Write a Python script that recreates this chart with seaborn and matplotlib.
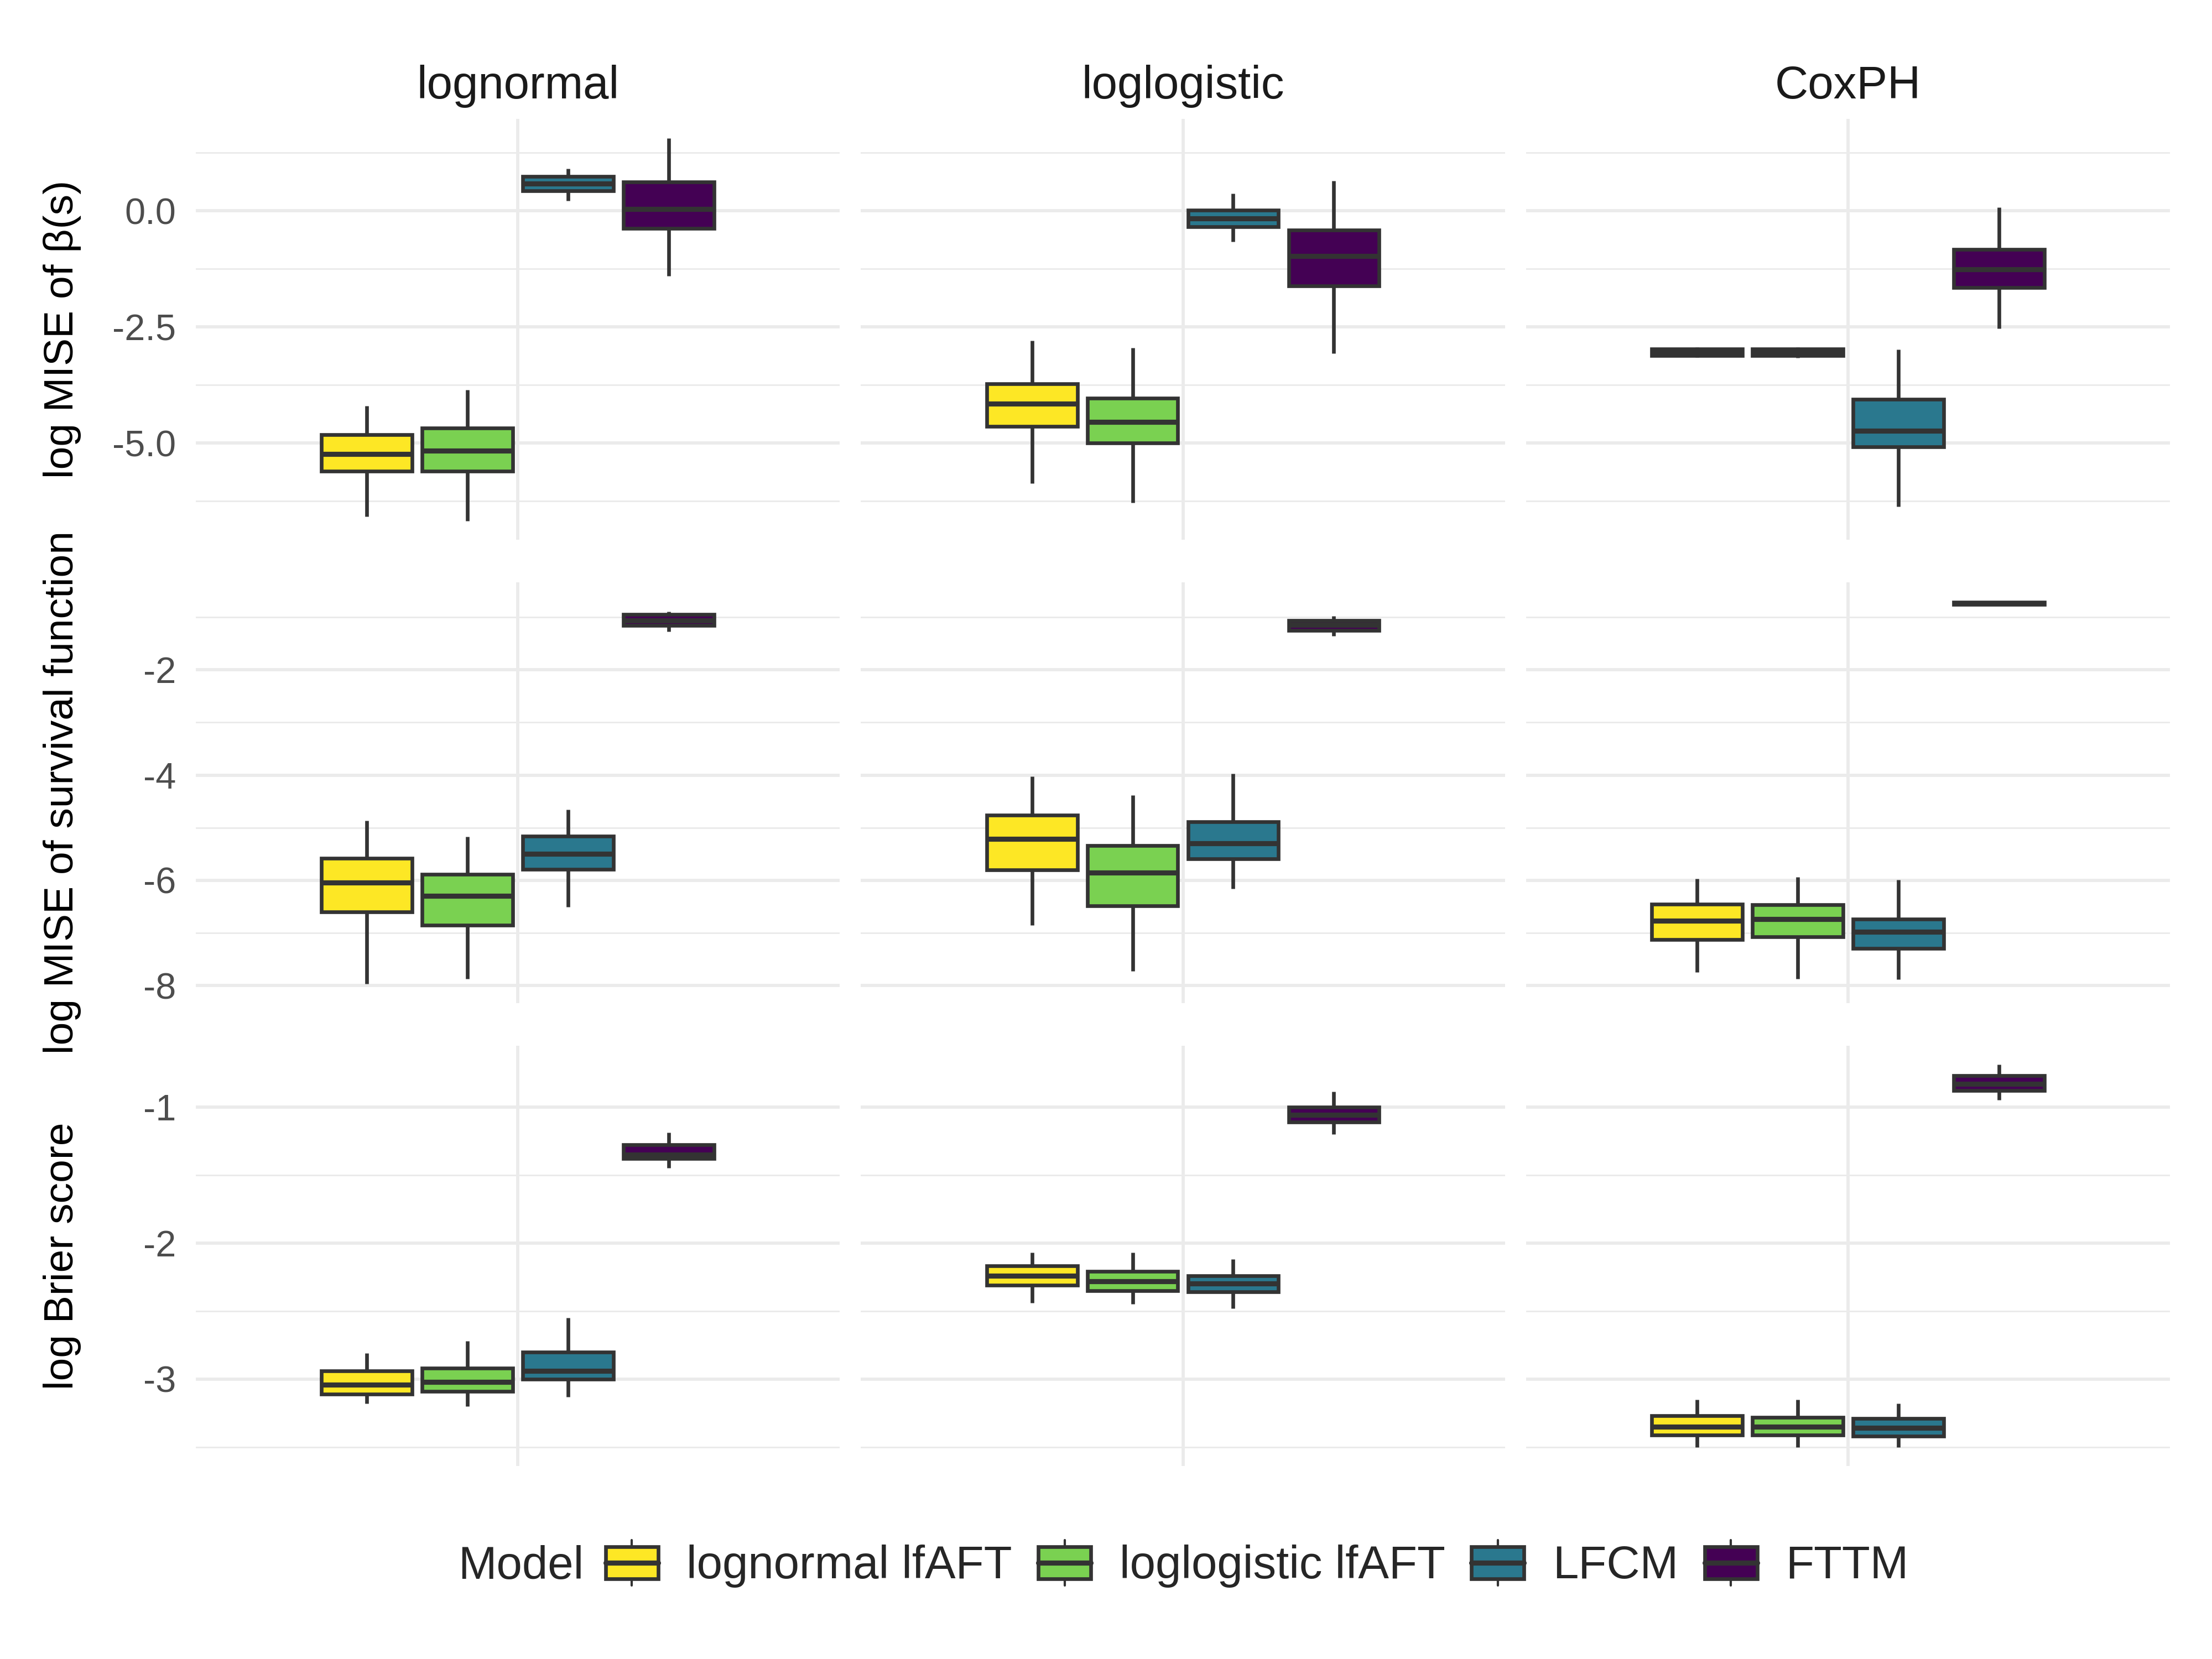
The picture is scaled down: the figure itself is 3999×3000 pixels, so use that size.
import matplotlib
matplotlib.use("Agg")
import matplotlib.pyplot as plt
import pandas as pd
import seaborn as sns
from matplotlib.legend_handler import HandlerBase
from matplotlib.lines import Line2D
from matplotlib.patches import Patch, Rectangle

scenarios = ["lognormal", "loglogistic", "CoxPH"]
models = ["lognormal lfAFT", "loglogistic lfAFT", "LFCM", "FTTM"]
model_colors = ["#FDE725", "#7AD151", "#2A788E", "#440154"]
metrics = ["log MISE of \u03b2(s)", "log MISE of survival function", "log Brier score"]

# five-number summaries read off the boxes: lower whisker, Q1, median, Q3, upper whisker
# boxes in each list: lognormal lfAFT, loglogistic lfAFT, LFCM, FTTM
beta_lognormal = [[-6.58, -5.60, -5.23, -4.82, -4.20],
                  [-6.67, -5.60, -5.16, -4.68, -3.86],
                  [0.22, 0.43, 0.58, 0.74, 0.90],
                  [-1.40, -0.38, 0.04, 0.62, 1.56]]
beta_loglogistic = [[-5.87, -4.64, -4.15, -3.72, -2.79],
                    [-6.28, -5.00, -4.55, -4.03, -2.95],
                    [-0.66, -0.34, -0.16, 0.01, 0.37],
                    [-3.07, -1.62, -0.98, -0.42, 0.64]]
beta_coxph = [[-3.15, -3.12, -3.04, -2.97, -2.94],
              [-3.16, -3.12, -3.04, -2.97, -2.94],
              [-6.37, -5.08, -4.73, -4.06, -2.98],
              [-2.53, -1.65, -1.26, -0.83, 0.07]]

surv_lognormal = [[-7.97, -6.60, -6.04, -5.58, -4.87],
                  [-7.87, -6.85, -6.30, -5.89, -5.17],
                  [-6.51, -5.79, -5.50, -5.16, -4.66],
                  [-1.27, -1.16, -1.06, -0.95, -0.89]]
surv_loglogistic = [[-6.85, -5.80, -5.21, -4.76, -4.03],
                    [-7.73, -6.49, -5.85, -5.34, -4.38],
                    [-6.16, -5.59, -5.30, -4.89, -3.97],
                    [-1.36, -1.25, -1.15, -1.06, -0.98]]
surv_coxph = [[-7.75, -7.13, -6.77, -6.45, -5.97],
              [-7.87, -7.07, -6.74, -6.46, -5.94],
              [-7.88, -7.30, -6.98, -6.74, -5.99],
              [-0.78, -0.76, -0.74, -0.72, -0.70]]

brier_lognormal = [[-3.18, -3.11, -3.04, -2.94, -2.81],
                   [-3.20, -3.09, -3.02, -2.92, -2.72],
                   [-3.13, -3.00, -2.94, -2.80, -2.55],
                   [-1.45, -1.38, -1.35, -1.28, -1.19]]
brier_loglogistic = [[-2.44, -2.31, -2.24, -2.17, -2.07],
                     [-2.45, -2.35, -2.28, -2.21, -2.07],
                     [-2.48, -2.36, -2.30, -2.24, -2.12],
                     [-1.20, -1.11, -1.06, -1.00, -0.89]]
brier_coxph = [[-3.50, -3.41, -3.35, -3.27, -3.15],
               [-3.50, -3.41, -3.35, -3.28, -3.15],
               [-3.50, -3.42, -3.36, -3.29, -3.18],
               [-0.95, -0.88, -0.83, -0.77, -0.69]]

summaries = [[beta_lognormal, beta_loglogistic, beta_coxph],
             [surv_lognormal, surv_loglogistic, surv_coxph],
             [brier_lognormal, brier_loglogistic, brier_coxph]]

major_ticks = [[-5, -2.5, 0], [-8, -6, -4, -2], [-3, -2, -1]]
minor_ticks = [[-6.25, -3.75, -1.25, 1.25], [-7, -5, -3, -1], [-3.5, -2.5, -1.5]]
tick_fmt = ["{:.1f}", "{:.0f}", "{:.0f}"]

rows = []
for i, metric in enumerate(metrics):
    for j, scen in enumerate(scenarios):
        for m, five in zip(models, summaries[i][j]):
            for v in five:
                rows.append({"metric": metric, "scenario": scen, "Model": m, "grp": "", "value": v})
df = pd.DataFrame(rows)

sns.set_style("white")
plt.rcParams["font.family"] = ["Liberation Sans", "DejaVu Sans"]
plt.rcParams["axes.unicode_minus"] = False

EDGE = "#333333"
GRID = "#EBEBEB"
palette = dict(zip(models, model_colors))

fig, axes = plt.subplots(3, 3, figsize=(13.333, 10), dpi=300, sharey="row")
fig.subplots_adjust(left=0.0885, right=0.9808, top=0.9282, bottom=0.1162,
                    wspace=0.033, hspace=0.101)

for i, metric in enumerate(metrics):
    sub_row = df[df.metric == metric]
    lo, hi = sub_row.value.min(), sub_row.value.max()
    pad = 0.05 * (hi - lo)
    for j, scen in enumerate(scenarios):
        ax = axes[i, j]
        sub = sub_row[sub_row.scenario == scen]
        sns.boxplot(data=sub, x="grp", y="value", hue="Model", hue_order=models,
                    palette=palette, saturation=1, width=0.75, gap=0.1,
                    whis=(0, 100), showfliers=False, linecolor=EDGE, linewidth=1.6,
                    medianprops={"linewidth": 2.2}, capprops={"visible": False},
                    legend=False, ax=ax)
        ax.set_xlim(-0.6, 0.6)
        ax.set_xticks([0])
        ax.set_xticklabels([])
        ax.set_ylim(lo - pad, hi + pad)
        ax.set_yticks(major_ticks[i])
        ax.set_yticks(minor_ticks[i], minor=True)
        ax.set_yticklabels([tick_fmt[i].format(t) for t in major_ticks[i]])
        ax.tick_params(axis="both", which="both", length=0)
        ax.tick_params(axis="y", labelsize=16, labelcolor="#4D4D4D", pad=8.5)
        ax.grid(True, which="major", color=GRID, linewidth=1.4)
        ax.grid(True, which="minor", axis="y", color=GRID, linewidth=0.7)
        ax.set_axisbelow(True)
        for s in ax.spines.values():
            s.set_visible(False)
        ax.set_xlabel("")
        ax.set_ylabel("")
        if i == 0:
            ax.set_title(scen, fontsize=20, color="#1A1A1A", pad=9)
    pos = axes[i, 0].get_position()
    fig.text(0.0282, (pos.y0 + pos.y1) / 2, metric, rotation=90, ha="center",
             va="center", fontsize=18, color="black")


class BoxKey(HandlerBase):
    def create_artists(self, legend, orig_handle, xdescent, ydescent, width, height,
                       fontsize, trans):
        x0, y0 = -xdescent, -ydescent
        xc = x0 + width / 2
        whisker = Line2D([xc, xc], [y0, y0 + height], color=EDGE, lw=1.0, transform=trans)
        box = Rectangle((x0, y0 + 0.15 * height), width, 0.7 * height,
                        facecolor=orig_handle.get_facecolor(), edgecolor=EDGE,
                        lw=1.6, transform=trans)
        median = Line2D([x0, x0 + width], [y0 + height / 2] * 2, color=EDGE, lw=2.2,
                        transform=trans)
        return [whisker, box, median]


handles = [Patch(facecolor=c) for c in model_colors]
fig.text(0.2071, 0.0556, "Model", fontsize=20, ha="left", va="center")
fig.legend(handles, models, loc="center left", bbox_to_anchor=(0.2737, 0.0573),
           ncol=4, frameon=False, fontsize=20, handlelength=1.14, handleheight=1.14,
           handletextpad=0.62, columnspacing=0.57, borderpad=0, borderaxespad=0,
           handler_map={Patch: BoxKey()})

fig.savefig("out.png", dpi=300, facecolor="white")
